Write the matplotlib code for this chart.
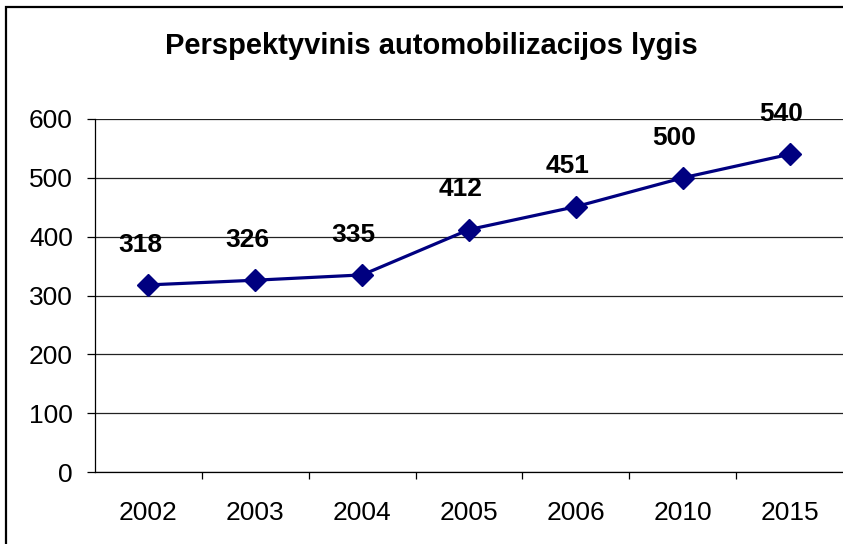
import matplotlib
matplotlib.use("Agg")
import matplotlib.pyplot as plt
from matplotlib.patches import Rectangle
import numpy as np

years = ["2002", "2003", "2004", "2005", "2006", "2010", "2015"]
values = [318, 326, 335, 412, 451, 500, 540]
title = "Perspektyvinis automobilizacijos lygis"
yticks = [0, 100, 200, 300, 400, 500, 600]

plt.rcParams["font.family"] = ["Liberation Sans", "DejaVu Sans"]

fig = plt.figure(figsize=(8.43, 5.44), dpi=100)
ax = fig.add_axes([95 / 843, 72 / 544, 748 / 843, 353 / 544])

x = np.arange(len(years))
ax.plot(x, values, color="#000080", lw=2.3, marker="D", markersize=11.5,
        markerfacecolor="#000080", markeredgecolor="#000080", zorder=3)

for xi, v in zip(x, values):
    ax.annotate(str(v), (xi, v), xytext=(-6, 29), textcoords="offset points",
                ha="center", va="center", fontsize=19, fontweight="bold")

ax.set_xlim(-0.5, len(years) - 0.5)
ax.set_ylim(0, 600)
ax.set_yticks(yticks)
ax.set_xticks(x)
ax.set_xticklabels(years)
ax.set_xticks(x[:-1] + 0.5, minor=True)
ax.tick_params(axis="x", which="major", length=0, pad=21, labelsize=19)
ax.tick_params(axis="x", which="minor", length=5, width=0.9, color="black")
ax.tick_params(axis="y", length=6, width=0.9, pad=10, labelsize=19)
ax.yaxis.grid(True, color="#222222", lw=0.9)
ax.set_axisbelow(True)

for s in ["top", "right"]:
    ax.spines[s].set_visible(False)
ax.spines["left"].set_linewidth(0.9)
ax.spines["bottom"].set_linewidth(0.9)

fig.text(431 / 843, 1 - 46 / 544, title, ha="center", va="center",
         fontsize=21, fontweight="bold")

fig.patches.append(Rectangle((6 / 843, -0.1), 1.2, 1.1 - 7 / 544,
                             transform=fig.transFigure, fill=False,
                             edgecolor="black", lw=1.6))

fig.savefig("out.png", dpi=100)
